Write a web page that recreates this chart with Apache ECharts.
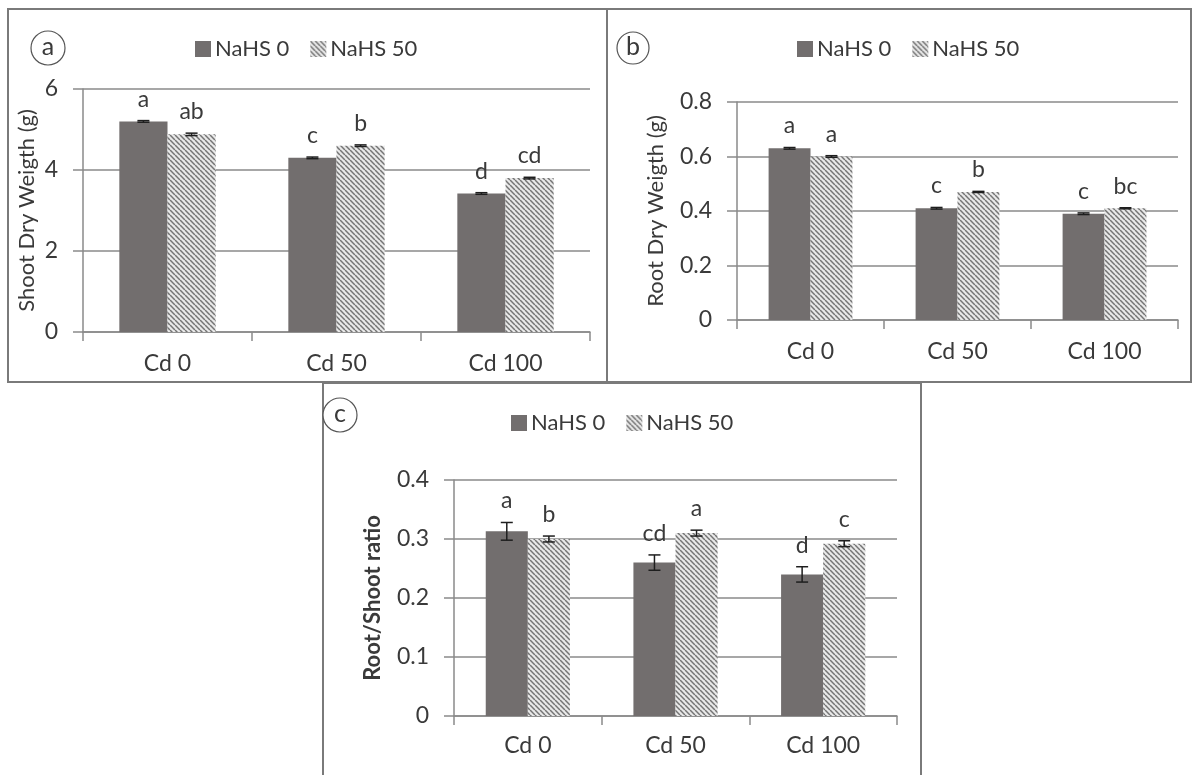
<!DOCTYPE html>
<html><head><meta charset="utf-8">
<script src="https://cdn.jsdelivr.net/npm/echarts@6/dist/echarts.min.js"></script>
<style>html,body{margin:0;padding:0;background:#fff}#c{width:1198px;height:775px}</style>
</head><body><div id="c"></div>
<script>
const categories = ['Cd 0', 'Cd 50', 'Cd 100'];
const seriesNames = ['NaHS 0', 'NaHS 50'];
// Panel a: Shoot dry weight
const shootNaHS0 = [5.2, 4.3, 3.42];
const shootNaHS50 = [4.88, 4.6, 3.8];
const shootErr0 = [0.02, 0.02, 0.02];
const shootErr50 = [0.03, 0.02, 0.02];
const shootLetters0 = ['a', 'c', 'd'];
const shootLetters50 = ['ab', 'b', 'cd'];
const shootTicks = [0, 2, 4, 6];
// Panel b: Root dry weight
const rootNaHS0 = [0.63, 0.41, 0.39];
const rootNaHS50 = [0.60, 0.47, 0.41];
const rootErr0 = [0.003, 0.003, 0.003];
const rootErr50 = [0.003, 0.002, 0.002];
const rootLetters0 = ['a', 'c', 'c'];
const rootLetters50 = ['a', 'b', 'bc'];
const rootTicks = [0, 0.2, 0.4, 0.6, 0.8];
// Panel c: Root/Shoot ratio
const ratioNaHS0 = [0.313, 0.26, 0.24];
const ratioNaHS50 = [0.30, 0.31, 0.292];
const ratioErr0 = [0.015, 0.013, 0.013];
const ratioErr50 = [0.005, 0.005, 0.005];
const ratioLetters0 = ['a', 'cd', 'd'];
const ratioLetters50 = ['b', 'a', 'c'];
const ratioTicks = [0, 0.1, 0.2, 0.3, 0.4];

const FONT = 'Lato, "Open Sans", sans-serif';
const TXT = '#3a3a3a';
const GRID_C = '#8a8a8a';
const DARK = '#726e6e';
const GAP = 0.43;

function hatch() {
  const cv = document.createElement('canvas');
  cv.width = 5; cv.height = 5;
  const g = cv.getContext('2d');
  g.fillStyle = '#e8e8e8'; g.fillRect(0, 0, 5, 5);
  g.strokeStyle = '#747474'; g.lineWidth = 1.5;
  for (const o of [-5, 0, 5]) { g.beginPath(); g.moveTo(o, 0); g.lineTo(o + 5, 5); g.stroke(); }
  return cv;
}
const HATCH = { image: hatch(), repeat: 'repeat' };

const panels = [
  { grid: { left: 83, right: 608, top: 89, bottom: 443 }, v0: shootNaHS0, v1: shootNaHS50, e0: shootErr0, e1: shootErr50, l0: shootLetters0, l1: shootLetters50, ticks: shootTicks, name: 'Shoot Dry Weigth (g)', nameGap: 45, nameSize: 22, nameWeight: 'normal', legendLeft: 195, legendTop: 38, catMargin: 20 },
  { grid: { left: 737, right: 20, top: 102, bottom: 455 }, v0: rootNaHS0, v1: rootNaHS50, e0: rootErr0, e1: rootErr50, l0: rootLetters0, l1: rootLetters50, ticks: rootTicks, name: 'Root Dry Weigth (g)', nameGap: 70, nameSize: 22, nameWeight: 'normal', legendLeft: 797, legendTop: 38, catMargin: 20 },
  { grid: { left: 454, right: 301, top: 480, bottom: 59 }, v0: ratioNaHS0, v1: ratioNaHS50, e0: ratioErr0, e1: ratioErr50, l0: ratioLetters0, l1: ratioLetters50, ticks: ratioTicks, name: 'Root/Shoot ratio', nameGap: 70, nameSize: 22, nameWeight: 'bold', legendLeft: 511, legendTop: 412, catMargin: 18 }
];

const grids = [], xAxes = [], yAxes = [], series = [], legends = [];
panels.forEach((p, i) => {
  grids.push(p.grid);
  xAxes.push({
    type: 'category', gridIndex: i, data: categories,
    axisLine: { show: true, lineStyle: { color: GRID_C, width: 1.5 } },
    axisTick: { show: true, length: 9, lineStyle: { color: GRID_C, width: 1.5 } },
    axisLabel: { color: TXT, fontSize: 23, fontFamily: FONT, margin: p.catMargin }
  });
  const t = p.ticks;
  yAxes.push({
    type: 'value', gridIndex: i, min: t[0], max: t[t.length - 1], interval: t[1] - t[0],
    name: p.name, nameLocation: 'middle', nameGap: p.nameGap, nameRotate: 90,
    nameTextStyle: { color: TXT, fontSize: p.nameSize, fontWeight: p.nameWeight, fontFamily: FONT },
    axisLine: { show: true, lineStyle: { color: GRID_C, width: 1.5 } },
    axisTick: { show: true, length: 10, lineStyle: { color: GRID_C, width: 1.5 } },
    splitLine: { show: true, lineStyle: { color: GRID_C, width: 1.5 } },
    axisLabel: { color: TXT, fontSize: 23, fontFamily: FONT, margin: 25 }
  });
  [[p.v0, DARK], [p.v1, HATCH]].forEach(([vals, col], s) => {
    series.push({
      type: 'bar', name: seriesNames[s], xAxisIndex: i, yAxisIndex: i, data: vals,
      barGap: '0%', barCategoryGap: (GAP * 100) + '%',
      itemStyle: { color: col }, emphasis: { disabled: true }, silent: true
    });
  });
  [[p.v0, p.e0, p.l0], [p.v1, p.e1, p.l1]].forEach(([vals, errs, lets], s) => {
    series.push({
      type: 'custom', xAxisIndex: i, yAxisIndex: i, silent: true, z: 5,
      data: vals.map((v, k) => [k, v, errs[k]]),
      renderItem: (params, api) => {
        const k = api.value(0), v = api.value(1), e = api.value(2);
        const band = api.size([1, 0])[0];
        const bw = band * (1 - GAP) / 2;
        const c = api.coord([k, v]);
        const x = c[0] + (s === 0 ? -bw / 2 : bw / 2);
        const yTop = api.coord([k, v + e])[1];
        const yBot = api.coord([k, v - e])[1];
        const cap = 6;
        const ls = { stroke: '#1e1e1e', lineWidth: 1.5 };
        return {
          type: 'group', children: [
            { type: 'line', shape: { x1: x, y1: yTop, x2: x, y2: yBot }, style: ls },
            { type: 'line', shape: { x1: x - cap, y1: yTop, x2: x + cap, y2: yTop }, style: ls },
            { type: 'line', shape: { x1: x - cap, y1: yBot, x2: x + cap, y2: yBot }, style: ls },
            { type: 'text', x: x, y: yTop - 10, style: { text: lets[k], fill: TXT, font: '23px ' + FONT, textAlign: 'center', textVerticalAlign: 'bottom' } }
          ]
        };
      }
    });
  });
  legends.push({
    left: p.legendLeft, top: p.legendTop, padding: 0, itemWidth: 16, itemHeight: 16, itemGap: 21,
    data: seriesNames.map(n => ({ name: n, icon: 'rect' })),
    textStyle: { color: TXT, fontSize: 22, fontFamily: FONT, padding: [0, 0, 0, -1] },
    selectedMode: false
  });
});

const BORDER = '#7a7a7a';
const graphic = [
  { type: 'rect', shape: { x: 8, y: 9, width: 599, height: 373 }, style: { fill: 'none', stroke: BORDER, lineWidth: 2 }, z: -1 },
  { type: 'rect', shape: { x: 607, y: 9, width: 584, height: 373 }, style: { fill: 'none', stroke: BORDER, lineWidth: 2 }, z: -1 },
  { type: 'rect', shape: { x: 323, y: 383, width: 598, height: 400 }, style: { fill: 'none', stroke: BORDER, lineWidth: 2 }, z: -1 },
  { type: 'circle', shape: { cx: 48, cy: 48, r: 17 }, style: { fill: '#fff', stroke: '#555', lineWidth: 1.2 } },
  { type: 'text', x: 48, y: 47, style: { text: 'a', font: '25px ' + FONT, fill: TXT, textAlign: 'center', textVerticalAlign: 'middle' } },
  { type: 'circle', shape: { cx: 633, cy: 48, r: 16 }, style: { fill: '#fff', stroke: '#555', lineWidth: 1.2 } },
  { type: 'text', x: 633, y: 47, style: { text: 'b', font: '25px ' + FONT, fill: TXT, textAlign: 'center', textVerticalAlign: 'middle' } },
  { type: 'circle', shape: { cx: 340, cy: 415, r: 17 }, style: { fill: '#fff', stroke: '#555', lineWidth: 1.2 } },
  { type: 'text', x: 340, y: 414, style: { text: 'c', font: '25px ' + FONT, fill: TXT, textAlign: 'center', textVerticalAlign: 'middle' } }
];

const chart = echarts.init(document.getElementById('c'), null, { renderer: 'canvas' });
chart.setOption({
  animation: false, backgroundColor: '#fff',
  grid: grids, xAxis: xAxes, yAxis: yAxes, series: series, legend: legends, graphic: graphic
});
</script></body></html>
